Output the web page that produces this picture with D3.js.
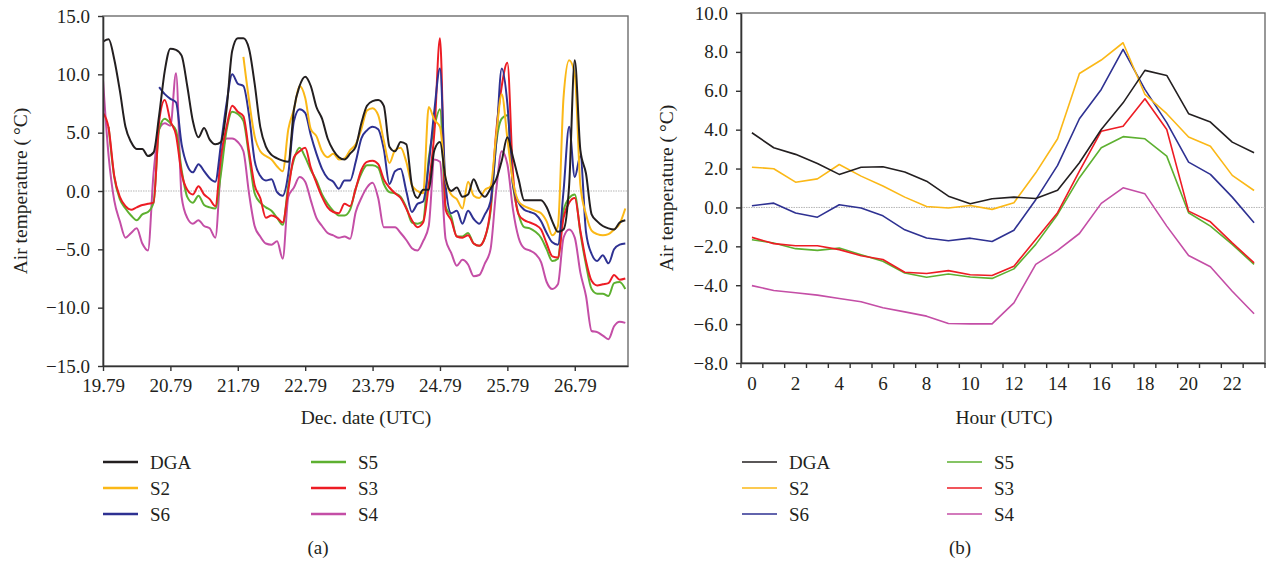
<!DOCTYPE html>
<html>
<head>
<meta charset="utf-8">
<script src="https://cdn.jsdelivr.net/npm/d3@7"></script>
<style>
	body { margin: 0; background: #fff; }
	svg text { font-family: "Liberation Serif", "DejaVu Serif", serif; fill: #231f20; }
</style>
</head>
<body>
<svg id="chart" width="1267" height="563"></svg>
<script>
// ---- panel (a): 2-hourly samples, Dec. date (UTC)
const dates = d3.range(94).map(i => 19.79 + i / 12);
const dateTicks = [19.79, 20.79, 21.79, 22.79, 23.79, 24.79, 25.79, 26.79];

const dgaA = [12.8, 13.0, 11.3, 8.6, 5.5, 4.2, 3.6, 3.6, 3.0, 3.3,
	6.5, 10.3, 12.2, 12.1, 11.6, 9.0, 6.0, 4.6, 5.4, 4.4,
	4.0, 4.2, 7.0, 12.0, 13.1, 13.1, 12.2, 9.2, 5.5, 3.8,
	3.1, 2.8, 2.6, 2.5, 7.0, 9.0, 9.8, 9.0, 7.2, 6.2,
	4.5, 3.5, 2.9, 2.7, 3.2, 3.8, 5.8, 7.3,
	7.7, 7.8, 7.3, 3.8, 3.4, 4.2, 4.0, 0.5, -0.6, 0.1, 0.1, 3.5,
	4.2, 1.1, 0.0, 0.3, -0.5, -0.3, 1.0, 0.0, -0.5, 0.2,
	1.0, 2.6, 4.6, 2.9, 1.0, -0.8, -0.8, -0.8, -0.8, -1.4,
	-2.6, -3.5, -3.3, 0.5, 11.2, 3.5, 1.5, -2.0, -2.6, -3.0,
	-3.2, -3.3, -2.7, -2.5];
const s2A = [null, null, null, null, null, null, null, null, null, null,
	null, null, null, null, null, null, null, null, null, null,
	null, null, null, null, null, 11.5, 7.8, 4.7, 3.4, 3.0,
	2.7, 2.1, 1.7, 5.3, 7.0, 9.0, 8.0, 5.3, 4.7, 3.4,
	2.9, 3.2, 2.7, 2.8, 3.5, 4.0, 5.3, 6.9,
	7.1, 6.5, 4.3, 2.4, 3.5, 3.7, 2.5, 0.5, 0.0, -0.2, 7.2, 6.1,
	5.5, 1.0, -0.3, -0.7, -1.5, 0.8, -0.4, -0.6, 0.1, 0.4,
	4.7, 8.3, 4.5, 0.8, -0.9, -1.3, -1.5, -1.7, -1.9, -2.6,
	-3.8, -3.0, 8.0, 11.2, 10.0, 0.5, -2.0, -3.4, -3.7, -3.8,
	-3.7, -3.3, -2.8, -1.5];
const s6A = [null, null, null, null, null, null, null, null, null, null,
	8.9, 8.3, 7.9, 7.6, 4.0, 2.2, 1.6, 2.3, 1.7, 1.1,
	0.8, 4.0, 7.5, 10.0, 9.2, 9.0, 6.5, 2.6, 1.3, 0.9,
	1.0, -0.1, -0.4, 1.5, 6.0, 7.0, 6.7, 4.8, 3.2, 1.9,
	1.1, 0.8, 0.2, 0.9, 0.9, 2.5, 4.5, 5.2,
	5.5, 5.3, 3.6, 0.6, 1.7, 1.9, 0.0, -1.8, -1.1, -0.9, 2.3, 6.9,
	10.5, 0.5, -1.9, -1.7, -2.8, -1.7, -2.4, -2.8, -2.0, -0.9,
	4.1, 10.5, 7.5, 0.5, -1.0, -1.6, -1.8, -2.0, -2.6, -3.6,
	-4.4, -4.6, 0.0, 5.5, 1.2, 3.0, -3.5, -5.4, -6.0, -5.5,
	-6.2, -5.0, -4.6, -4.5];
const s5A = [null, 5.5, 1.2, -0.7, -1.5, -2.1, -2.5, -2.0, -1.8, -1.0,
	5.3, 6.2, 5.8, 5.2, 1.8, -0.5, -1.0, -0.4, -1.2, -1.4,
	-1.5, 1.5, 5.2, 6.8, 6.6, 6.0, 3.0, -0.2, -1.0, -1.4,
	-1.7, -2.3, -2.9, 0.5, 2.7, 3.7, 2.9, 1.8, 0.9, -0.3,
	-1.1, -1.7, -2.1, -2.1, -1.6, 0.2, 1.5, 2.2,
	2.2, 2.0, 0.6, -0.1, -0.2, -0.5, -1.4, -2.7, -2.8, -2.6, 2.8, 5.5,
	7.0, -1.3, -2.2, -3.9, -3.9, -3.6, -4.5, -4.7, -4.0, -1.8,
	4.0, 6.2, 6.5, 0.5, -2.0, -3.1, -3.2, -3.5, -4.0, -5.0,
	-6.0, -5.8, -1.7, -0.6, -0.3, -3.6, -6.3, -8.4, -8.8, -8.8,
	-9.0, -7.9, -7.8, -8.4];
const s3A = [6.7, 5.4, 1.3, -0.5, -1.3, -1.6, -1.4, -1.2, -1.1, -1.0,
	6.0, 7.8, 6.0, 4.8, 1.5, 0.1, -0.3, 0.4, -0.3, -0.7,
	-1.3, 3.0, 5.5, 7.3, 6.8, 6.4, 3.4, 0.5, -0.6, -2.3,
	-2.1, -2.3, -2.7, 0.1, 2.9, 3.4, 3.7, 2.0, 0.7, -0.5,
	-1.4, -1.8, -1.9, -1.1, -1.3, 0.2, 1.8, 2.5,
	2.6, 2.3, 1.0, 0.3, -0.2, -0.6, -1.5, -2.5, -3.1, -2.7, 0.5, 5.0,
	13.1, -1.6, -2.5, -3.9, -4.0, -3.8, -4.5, -4.7, -4.0, -1.5,
	5.0, 9.0, 11.0, 1.5, -2.0, -2.5, -2.7, -2.9, -3.3, -4.5,
	-5.6, -5.7, -2.3, -1.0, -0.6, -3.4, -6.0, -7.7, -8.1, -8.0,
	-7.9, -7.2, -7.6, -7.5];
const s4A = [9.5, 3.0, -0.8, -2.6, -4.0, -3.6, -3.2, -4.5, -5.1, 1.5,
	5.3, 5.8, 5.6, 10.1, -0.5, -2.3, -2.8, -2.5, -3.0, -3.2,
	-4.0, 2.0, 4.5, 4.5, 4.2, 3.4, -0.2, -3.0, -3.9, -4.5,
	-4.6, -4.3, -5.8, -0.5, 0.3, 1.2, 0.8, -0.8, -2.3, -3.0,
	-3.6, -3.8, -4.0, -3.9, -4.1, -1.8, -0.6, 0.3,
	0.7, -0.6, -3.1, -3.1, -3.1, -3.6, -4.2, -4.9, -5.1, -4.3, -3.0, 2.7,
	2.5, -4.1, -5.3, -6.4, -5.9, -6.3, -7.3, -7.2, -6.2, -5.0,
	0.0, 3.4, 2.3, -1.6, -4.0, -4.9, -5.1, -5.4, -6.1, -7.8,
	-8.4, -8.0, -4.0, -3.3, -4.0, -7.0, -9.0, -12.0, -12.1, -12.4,
	-12.7, -11.6, -11.2, -11.3];

// ---- panel (b): mean hourly values, Hour (UTC)
const hours = d3.range(24);
const dgaB = [3.84, 3.07, 2.73, 2.26, 1.70, 2.07, 2.09, 1.82, 1.35, 0.58, 0.19, 0.45,
	0.53, 0.46, 0.89, 2.30, 4.01, 5.38, 7.05, 6.79, 4.82, 4.39, 3.36, 2.81];
const s2B = [2.07, 1.99, 1.30, 1.47, 2.21, 1.61, 1.10, 0.53, 0.05, -0.03, 0.10, -0.10,
	0.24, 1.78, 3.53, 6.89, 7.58, 8.47, 5.81, 4.82, 3.62, 3.15, 1.65, 0.87];
const s6B = [0.09, 0.22, -0.29, -0.50, 0.14, -0.03, -0.43, -1.15, -1.57, -1.71, -1.58, -1.75,
	-1.17, 0.40, 2.16, 4.56, 6.07, 8.13, 6.07, 4.36, 2.33, 1.70, 0.53, -0.79];
const s5B = [-1.66, -1.83, -2.12, -2.21, -2.09, -2.43, -2.77, -3.37, -3.59, -3.42, -3.58, -3.65,
	-3.16, -1.90, -0.36, 1.53, 3.07, 3.64, 3.53, 2.64, -0.27, -0.96, -1.90, -2.93];
const s3B = [-1.54, -1.86, -1.97, -1.97, -2.17, -2.48, -2.68, -3.33, -3.40, -3.25, -3.46, -3.50,
	-3.02, -1.65, -0.27, 1.87, 3.92, 4.18, 5.59, 4.01, -0.19, -0.74, -1.82, -2.85];
const s4B = [-4.02, -4.27, -4.39, -4.51, -4.68, -4.85, -5.16, -5.37, -5.59, -5.97, -5.99, -5.99,
	-4.91, -2.93, -2.21, -1.34, 0.21, 1.01, 0.70, -0.96, -2.47, -3.05, -4.31, -5.47];

const seriesNames = ["DGA", "S2", "S6", "S5", "S3", "S4"];
const seriesColors = ["#231f20", "#fbb817", "#2e3192", "#5db030", "#ed1c24", "#c44ea6"];
// drawing order (back to front) like the original
const drawOrder = ["S4", "S5", "S3", "S6", "S2", "DGA"];

const svg = d3.select("#chart");
const fmt1 = d3.format(".1f");

function styleAxis(g) {
	g.selectAll("path.domain").attr("stroke", "#333").attr("stroke-width", 1.6);
	g.selectAll(".tick line").attr("stroke", "#333").attr("stroke-width", 1.4);
	g.selectAll("text").attr("font-size", 19).attr("fill", "#231f20")
		.style("font-family", "'Liberation Serif', serif");
}

function drawFrame(box, y) {
	svg.append("rect")
		.attr("x", box.left).attr("y", box.top)
		.attr("width", box.right - box.left).attr("height", box.bottom - box.top)
		.attr("fill", "none").attr("stroke", "#6d6d6d").attr("stroke-width", 1.4);
	svg.append("line")
		.attr("x1", box.left).attr("x2", box.right)
		.attr("y1", y(0)).attr("y2", y(0))
		.attr("stroke", "#b5b5b5").attr("stroke-width", 1)
		.attr("stroke-dasharray", "1.5,1");
}

function drawLegend(x0, colGap, y0, rowGap, lineLen, lineWidth) {
	seriesNames.forEach((name, i) => {
		const col = Math.floor(i / 3), row = i % 3;
		const lx = x0 + col * colGap, ly = y0 + row * rowGap;
		svg.append("line")
			.attr("x1", lx).attr("x2", lx + lineLen)
			.attr("y1", ly).attr("y2", ly)
			.attr("stroke", seriesColors[i]).attr("stroke-width", lineWidth);
		svg.append("text")
			.attr("x", lx + lineLen + 12).attr("y", ly + 6.5)
			.attr("font-size", 19)
			.text(name);
	});
}

// ---------------- panel (a)
(function panelA() {
	const box = {left: 103, right: 628, top: 16, bottom: 366};
	const x = d3.scaleLinear([19.79, 27.58], [box.left, box.right]);
	const y = d3.scaleLinear([-15, 15], [box.bottom, box.top]);
	const data = {DGA: dgaA, S2: s2A, S6: s6A, S5: s5A, S3: s3A, S4: s4A};

	drawFrame(box, y);

	svg.append("clipPath").attr("id", "clipA")
		.append("rect")
		.attr("x", box.left).attr("y", box.top)
		.attr("width", box.right - box.left).attr("height", box.bottom - box.top);

	const line = d3.line()
		.defined(d => d[1] != null)
		.curve(d3.curveMonotoneX)
		.x(d => x(d[0]))
		.y(d => y(d[1]));

	const lines = svg.append("g").attr("clip-path", "url(#clipA)");
	drawOrder.forEach(name => {
		const vals = data[name];
		lines.append("path")
			.datum(dates.map((t, i) => [t, vals[i]]))
			.attr("fill", "none")
			.attr("stroke", seriesColors[seriesNames.indexOf(name)])
			.attr("stroke-width", 2)
			.attr("stroke-linejoin", "round")
			.attr("d", line);
	});

	svg.append("g")
		.attr("transform", `translate(${box.left},0)`)
		.call(d3.axisLeft(y).tickValues(d3.range(-15, 16, 5)).tickFormat(fmt1)
			.tickSizeInner(5).tickSizeOuter(0).tickPadding(8))
		.call(styleAxis);

	svg.append("g")
		.attr("transform", `translate(0,${box.bottom})`)
		.call(d3.axisBottom(x).tickValues(dateTicks).tickFormat(d3.format(".2f"))
			.tickSizeInner(5).tickSizeOuter(0).tickPadding(8))
		.call(styleAxis);

	svg.append("text")
		.attr("transform", `translate(27,${(box.top + box.bottom) / 2}) rotate(-90)`)
		.attr("text-anchor", "middle").attr("font-size", 19.5)
		.text("Air temperature (\u2009\u00b0C)");
	svg.append("text")
		.attr("x", 366).attr("y", 424)
		.attr("text-anchor", "middle").attr("font-size", 19.5)
		.text("Dec. date (UTC)");

	drawLegend(103, 208, 462, 26, 35, 2.6);

	svg.append("text")
		.attr("x", 318).attr("y", 554)
		.attr("text-anchor", "middle").attr("font-size", 19)
		.text("(a)");
})();

// ---------------- panel (b)
(function panelB() {
	const box = {left: 741, right: 1265, top: 13, bottom: 363};
	const x = d3.scaleBand(hours, [box.left, box.right]);
	const y = d3.scaleLinear([-8, 10], [box.bottom, box.top]);
	const data = {DGA: dgaB, S2: s2B, S6: s6B, S5: s5B, S3: s3B, S4: s4B};
	const cx = h => x(h) + x.bandwidth() / 2;

	drawFrame(box, y);

	const line = d3.line()
		.x(d => cx(d[0]))
		.y(d => y(d[1]));

	drawOrder.forEach(name => {
		const vals = data[name];
		svg.append("path")
			.datum(hours.map((h, i) => [h, vals[i]]))
			.attr("fill", "none")
			.attr("stroke", seriesColors[seriesNames.indexOf(name)])
			.attr("stroke-width", 1.6)
			.attr("stroke-linejoin", "round")
			.attr("d", line);
	});

	svg.append("g")
		.attr("transform", `translate(${box.left},0)`)
		.call(d3.axisLeft(y).tickValues(d3.range(-8, 11, 2)).tickFormat(fmt1)
			.tickSizeInner(5).tickSizeOuter(0).tickPadding(8))
		.call(styleAxis);

	// category axis: labels on even hours, tick marks between categories
	const xAxis = svg.append("g")
		.attr("transform", `translate(0,${box.bottom})`)
		.call(d3.axisBottom(x).tickValues(hours.filter(h => h % 2 === 0))
			.tickSize(0).tickPadding(14))
		.call(styleAxis);
	xAxis.selectAll(".tick line").remove();
	xAxis.selectAll(".boundary")
		.data(hours.map(h => x(h)).concat([box.right]))
		.enter().append("line")
		.attr("class", "boundary")
		.attr("x1", d => d).attr("x2", d => d)
		.attr("y1", 0).attr("y2", 5)
		.attr("stroke", "#333").attr("stroke-width", 1.4);

	svg.append("text")
		.attr("transform", `translate(673,${(box.top + box.bottom) / 2}) rotate(-90)`)
		.attr("text-anchor", "middle").attr("font-size", 19.5)
		.text("Air temperature (\u2009\u00b0C)");
	svg.append("text")
		.attr("x", 1004).attr("y", 424)
		.attr("text-anchor", "middle").attr("font-size", 19.5)
		.text("Hour (UTC)");

	drawLegend(742, 205, 462, 26, 35, 1.6);

	svg.append("text")
		.attr("x", 960).attr("y", 554)
		.attr("text-anchor", "middle").attr("font-size", 19)
		.text("(b)");
})();
</script>
</body>
</html>
